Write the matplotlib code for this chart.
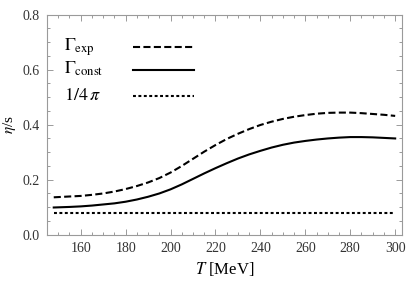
import matplotlib
matplotlib.use("Agg")
import matplotlib.pyplot as plt
from matplotlib.ticker import MultipleLocator

plt.rcParams["font.family"] = ["Liberation Serif", "DejaVu Serif"]
plt.rcParams["mathtext.fontset"] = "stix"

# Temperature grid (MeV) and eta/s curves
T = [148, 155, 160, 165, 170, 175, 180, 185, 190, 195, 200, 205, 210, 215,
     220, 225, 230, 235, 240, 245, 250, 255, 260, 265, 270, 275, 280, 285,
     290, 295, 300]
eta_exp = [0.136, 0.139, 0.141, 0.145, 0.150, 0.157, 0.166, 0.177, 0.190,
           0.206, 0.226, 0.250, 0.276, 0.302, 0.326, 0.348, 0.367, 0.384,
           0.399, 0.411, 0.421, 0.429, 0.435, 0.440, 0.443, 0.444, 0.444,
           0.442, 0.439, 0.436, 0.432]
eta_const = [0.099, 0.101, 0.103, 0.106, 0.110, 0.114, 0.120, 0.128, 0.138,
             0.150, 0.165, 0.183, 0.203, 0.223, 0.242, 0.260, 0.277, 0.292,
             0.305, 0.317, 0.327, 0.335, 0.341, 0.346, 0.350, 0.353, 0.355,
             0.355, 0.354, 0.352, 0.350]
kss_bound = 0.0796  # 1/(4 pi)

labels = [r"$\Gamma_{\rm exp}$", r"$\Gamma_{\rm const}$", r"$1/4\,\pi$"]
styles = [dict(dashes=(3.4, 1.6)), dict(), dict(dashes=(1.4, 1.2))]

fig = plt.figure(figsize=(4.07, 2.88), dpi=100)
ax = fig.add_axes([0.1155, 0.185, 0.872, 0.764])

ax.plot(T, eta_exp, color="black", lw=1.5, **styles[0])
ax.plot(T, eta_const, color="black", lw=1.5, **styles[1])
ax.plot([T[0], T[-1]], [kss_bound, kss_bound], color="black", lw=1.5, **styles[2])

# legend drawn by hand: label on the left, line sample on the right
line_y = [0.855, 0.749, 0.632]
text_y = [0.836, 0.731, 0.612]
for lab, st, ly, ty in zip(labels, styles, line_y, text_y):
    ax.text(0.048, ty, lab, transform=ax.transAxes, fontsize=13,
            ha="left", va="baseline")
    ax.plot([0.242, 0.414], [ly, ly], transform=ax.transAxes, color="black",
            lw=1.5, **st)

ax.set_xlim(145, 303)
ax.set_ylim(0, 0.8)
ax.xaxis.set_major_locator(MultipleLocator(20))
ax.xaxis.set_minor_locator(MultipleLocator(5))
ax.yaxis.set_major_locator(MultipleLocator(0.2))
ax.yaxis.set_minor_locator(MultipleLocator(0.05))
ax.yaxis.set_major_formatter(plt.FuncFormatter(lambda v, p: f"{v:.1f}"))

frame = "#9a9a9a"
for s in ax.spines.values():
    s.set_color(frame)
    s.set_linewidth(0.8)
ax.tick_params(which="both", direction="in", top=True, right=True, color=frame,
               labelsize=10, labelcolor="#333333", width=0.7)
ax.tick_params(which="major", length=4, pad=5)
ax.tick_params(which="minor", length=2)

ax.set_xlabel(r"$T$ [MeV]", fontsize=12, labelpad=4)
ax.set_ylabel(r"$\eta$/s", fontsize=11)
ax.yaxis.set_label_coords(-0.083, 0.5)

fig.savefig("out.png", dpi=100)
